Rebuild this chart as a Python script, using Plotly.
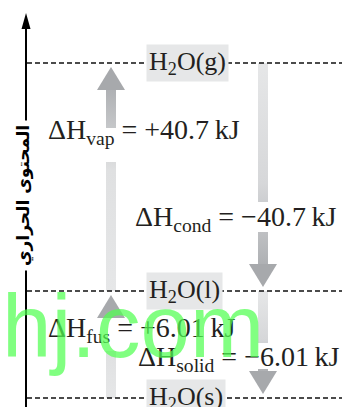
import plotly.graph_objects as go

# energy levels of water (schematic, not to scale)
states = ["H<sub>2</sub>O(s)", "H<sub>2</sub>O(l)", "H<sub>2</sub>O(g)"]
level_y = [0, 107, 335]

# phase changes: name, enthalpy change (kJ), from level, to level
trans_name = ["vap", "cond", "fus", "solid"]
trans_dh = [40.7, -40.7, 6.01, -6.01]
trans_from = [1, 2, 0, 1]
trans_to = [2, 1, 1, 0]

axis_title = "المحتوى الحراري"
watermark = "hj.com"

W, H = 342, 407
Y_BOTTOM, Y_TOP = -9, 398
AXIS_X = 26
LEVEL_X0 = 27
STATE_X = 146
COL_UP, COL_DOWN = 111, 263
label_x = [46, 133, 46, 136]
label_frac = [0.70, 0.32, 0.64, 0.37]
# part of each arrow shaft left open for its label
shaft_gap = [(236, 270), (166, 196), (47, 82), (29, 55)]

SERIF = "Liberation Serif"
INK = "#231f20"
HEAD = "#a7a9ac"
LIGHT = "#e6e7e8"
BOX = "#e6e7e8"


def addArrow(fig, xc, y0, y1, gap):
    head_len = 23
    head_hw = 14
    shaft_hw = 5
    sign = 1 if y1 > y0 else -1
    base = y1 - sign * head_len
    lo, hi = min(y0, base), max(y0, base)
    if sign > 0:
        scale = [[0, LIGHT], [0.6, "#dfe0e1"], [1, "#afb1b4"]]
    else:
        scale = [[0, "#afb1b4"], [0.4, "#d6d7d9"], [1, LIGHT]]
    pieces = [(lo, max(lo, min(hi, gap[0]))), (min(hi, max(lo, gap[1])), hi)]
    for a, b in pieces:
        if b - a <= 0:
            continue
        fig.add_trace(go.Scatter(x=[xc - shaft_hw, xc + shaft_hw, xc + shaft_hw, xc - shaft_hw, xc - shaft_hw],
                                 y=[a, a, b, b, a],
                                 fill='toself', mode='none',
                                 fillgradient=dict(type='vertical', colorscale=scale, start=lo, stop=hi),
                                 hoverinfo='skip', showlegend=False))
    fig.add_trace(go.Scatter(x=[xc - head_hw, xc + head_hw, xc, xc - head_hw],
                             y=[base, base, y1, base],
                             fill='toself', mode='none', fillcolor=HEAD,
                             hoverinfo='skip', showlegend=False))


fig = go.Figure()

# arrows for each phase change
for i in range(len(trans_name)):
    y0 = level_y[trans_from[i]]
    y1 = level_y[trans_to[i]]
    up = y1 > y0
    tip = y1 - 4 if up else y1 + 4
    addArrow(fig, COL_UP if up else COL_DOWN, y0, tip, shaft_gap[i])

# vertical enthalpy axis
fig.add_trace(go.Scatter(x=[AXIS_X, AXIS_X], y=[Y_BOTTOM, Y_TOP - 26],
                         mode='lines', line=dict(color='black', width=2),
                         hoverinfo='skip', showlegend=False))
fig.add_trace(go.Scatter(x=[AXIS_X - 4.5, AXIS_X + 4.5, AXIS_X, AXIS_X - 4.5],
                         y=[Y_TOP - 29, Y_TOP - 29, Y_TOP - 13, Y_TOP - 29],
                         fill='toself', mode='none', fillcolor='black',
                         hoverinfo='skip', showlegend=False))

shapes = []
annotations = []
for name, y in zip(states, level_y):
    shapes.append(dict(type='line', xref='x', yref='y', x0=LEVEL_X0, x1=W, y0=y, y1=y,
                       line=dict(color='#111111', width=1.4, dash='5px,3px')))
    annotations.append(dict(x=STATE_X, y=y, xref='x', yref='y', xanchor='left', yanchor='middle',
                            text=name, showarrow=False, bgcolor=BOX, borderpad=2,
                            font=dict(family=SERIF, size=26, color=INK)))

for i in range(len(trans_name)):
    lo = min(level_y[trans_from[i]], level_y[trans_to[i]])
    hi = max(level_y[trans_from[i]], level_y[trans_to[i]])
    dh = trans_dh[i]
    sign = "+" if dh > 0 else "\u2212"
    text = "\u0394H<sub>%s</sub> = %s%g\u2009kJ" % (trans_name[i], sign, abs(dh))
    annotations.append(dict(x=label_x[i], y=lo + label_frac[i] * (hi - lo), xref='x', yref='y',
                            xanchor='left', yanchor='middle', text=text, showarrow=False,
                            font=dict(family=SERIF, size=28, color=INK)))

annotations.append(dict(x=AXIS_X - 3, y=202, xref='x', yref='y', xanchor='center', yanchor='middle',
                        text="<b>%s</b>" % axis_title, textangle=-90, showarrow=False,
                        bgcolor='white', borderpad=4,
                        font=dict(family='DejaVu Sans', size=17, color='black')))

annotations.append(dict(x=0, y=72, xref='x', yref='y', xanchor='left', yanchor='middle',
                        text=watermark, showarrow=False,
                        font=dict(family='Liberation Sans', size=89, color='rgba(80,255,80,0.72)')))

fig.update_layout(width=W, height=H, margin=dict(l=0, r=0, t=0, b=0),
                  paper_bgcolor='white', plot_bgcolor='white',
                  shapes=shapes, annotations=annotations,
                  xaxis=dict(range=[0, W], visible=False, fixedrange=True),
                  yaxis=dict(range=[Y_BOTTOM, Y_TOP], visible=False, fixedrange=True),
                  showlegend=False)
fig.write_html("out.html", config={'displayModeBar': False},
               post_script="document.body.style.margin='0';")
